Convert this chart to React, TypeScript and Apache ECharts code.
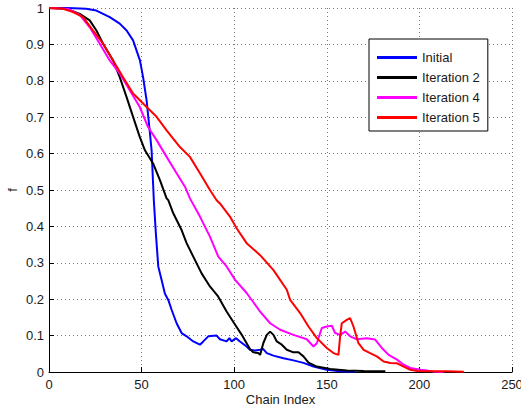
import React, { useEffect, useRef } from "react";
import * as echarts from "echarts";

const seriesNames = ["Initial", "Iteration 2", "Iteration 4", "Iteration 5"];
const seriesColors = ["#0000ff", "#000000", "#ff00ff", "#ff0000"];

const initialX = [0, 10, 20, 25.6, 32.8, 38.2, 41.9, 45.4, 49.1, 50.8, 52.7, 54.5, 55.4, 56.2, 56.6, 57.7, 59, 60.8, 62.6, 64.4, 66.2, 68.9, 71.6, 74.3, 77.9, 81.5, 83.3, 86, 90.5, 92.3, 95.9, 97.4, 98.6, 101, 103.1, 106.7, 108.5, 111.2, 114, 115.7, 117.6, 121.2, 126.6, 132, 137.4, 142.8, 150, 157.2, 165.3];
const initialY = [1, 1, 0.998, 0.993, 0.975, 0.957, 0.938, 0.911, 0.856, 0.81, 0.746, 0.656, 0.609, 0.518, 0.472, 0.381, 0.29, 0.253, 0.215, 0.198, 0.171, 0.134, 0.107, 0.098, 0.084, 0.075, 0.084, 0.098, 0.1, 0.09, 0.084, 0.093, 0.084, 0.093, 0.084, 0.07, 0.061, 0.059, 0.061, 0.063, 0.052, 0.045, 0.038, 0.032, 0.025, 0.015, 0.006, 0.002, 0.001];

const iter2X = [0, 9.4, 16.6, 22, 25.6, 29.2, 34.6, 38.2, 41.9, 45.4, 49, 51.8, 56.2, 59.9, 63.5, 64.4, 67.1, 71.6, 74.3, 77.9, 82.4, 86.9, 91.4, 95.9, 100.5, 104.1, 106.7, 108.5, 110.3, 113, 114, 115.7, 117.6, 119.4, 121.2, 123, 125.7, 128.4, 132, 134.7, 137.4, 140.1, 144.6, 151.8, 160.8, 169.9, 181.6];
const iter2Y = [1, 0.998, 0.984, 0.966, 0.938, 0.902, 0.856, 0.81, 0.755, 0.701, 0.646, 0.609, 0.573, 0.527, 0.477, 0.472, 0.436, 0.39, 0.354, 0.317, 0.271, 0.235, 0.207, 0.166, 0.13, 0.102, 0.079, 0.063, 0.054, 0.052, 0.047, 0.079, 0.102, 0.111, 0.102, 0.084, 0.075, 0.061, 0.054, 0.054, 0.043, 0.026, 0.015, 0.008, 0.004, 0.003, 0.002];

const iter4X = [0, 10, 16.6, 22, 27.4, 32.8, 38.2, 43.6, 49, 53.5, 58.1, 63.5, 68.9, 73.4, 76.1, 81.5, 86.9, 91.4, 95.9, 100.5, 106.7, 114, 119.4, 124.8, 132, 139.2, 142.8, 144.6, 147.3, 150, 152.7, 154.5, 157.2, 159.9, 162.6, 166.2, 171.6, 176.1, 179.7, 183.4, 187.9, 191.5, 195.1, 200.5, 204, 207.7, 213];
const iter4Y = [1, 0.998, 0.981, 0.947, 0.902, 0.856, 0.82, 0.774, 0.728, 0.673, 0.637, 0.591, 0.546, 0.509, 0.477, 0.427, 0.372, 0.317, 0.29, 0.253, 0.217, 0.166, 0.134, 0.116, 0.102, 0.09, 0.07, 0.079, 0.121, 0.125, 0.127, 0.107, 0.102, 0.111, 0.098, 0.09, 0.093, 0.089, 0.066, 0.047, 0.034, 0.02, 0.011, 0.006, 0.004, 0.001, 0];

const iter5X = [0, 7.6, 13, 18.4, 23.8, 29.2, 34.6, 40, 45.4, 52.7, 58.1, 63.5, 70.7, 76.1, 81.5, 86.9, 90.5, 92.3, 97.7, 101.3, 106.7, 114, 121.2, 128.4, 130.2, 135.6, 140.1, 144.6, 150, 153.6, 156.3, 157.2, 158.1, 160.8, 162.6, 164.4, 167.1, 169.9, 173.4, 177, 180.7, 184.3, 187.9, 191.5, 195.1, 198.8, 204, 215, 224];
const iter5Y = [1, 0.998, 0.989, 0.975, 0.938, 0.902, 0.856, 0.81, 0.765, 0.728, 0.701, 0.664, 0.618, 0.591, 0.546, 0.5, 0.472, 0.463, 0.427, 0.395, 0.354, 0.321, 0.28, 0.226, 0.198, 0.162, 0.125, 0.093, 0.066, 0.052, 0.047, 0.098, 0.134, 0.143, 0.148, 0.125, 0.079, 0.061, 0.052, 0.043, 0.029, 0.025, 0.024, 0.015, 0.006, 0.003, 0.002, 0.002, 0.001];

const xs = [initialX, iter2X, iter4X, iter5X];
const ys = [initialY, iter2Y, iter4Y, iter5Y];

const FONT = "Liberation Sans, Arial, sans-serif";

export default function App() {
  const ref = useRef<HTMLDivElement>(null);
  useEffect(() => {
    if (!ref.current) return;
    const chart = echarts.init(ref.current, undefined, { renderer: "svg" });
    const axisCommon = {
      axisLine: { show: true, lineStyle: { color: "#000", width: 1 } },
      axisTick: { show: true, inside: true, length: 5, lineStyle: { color: "#000" } },
      axisLabel: { color: "#1a1a1a", fontSize: 13, fontFamily: FONT },
      splitLine: { show: true, lineStyle: { color: "#777", type: [1, 3], width: 1 } },
      nameTextStyle: { color: "#1a1a1a", fontSize: 13, fontFamily: FONT },
      nameMoveOverlap: false,
    };
    chart.setOption({
      animation: false,
      backgroundColor: "#fff",
      grid: { left: 49, right: 9, top: 8, bottom: 36, containLabel: false, outerBoundsMode: "none" },
      xAxis: {
        type: "value",
        min: 0,
        max: 250,
        interval: 50,
        name: "Chain Index",
        nameLocation: "middle",
        nameGap: 21,
        ...axisCommon,
        axisLabel: { ...axisCommon.axisLabel, margin: 6 },
      },
      yAxis: {
        type: "value",
        min: 0,
        max: 1,
        interval: 0.1,
        name: "f",
        nameLocation: "middle",
        nameGap: 30,
        ...axisCommon,
        axisLabel: { ...axisCommon.axisLabel, margin: 5 },
      },
      legend: {
        left: 369,
        top: 39,
        orient: "vertical",
        backgroundColor: "#fff",
        borderColor: "#000",
        borderWidth: 1,
        borderRadius: 0,
        padding: [12, 8, 7, 8],
        itemGap: 7,
        itemWidth: 40,
        itemHeight: 3,
        icon: "rect",
        textStyle: { color: "#1a1a1a", fontSize: 13, fontFamily: FONT },
        data: seriesNames,
      },
      series: seriesNames.map((name, i) => ({
        name,
        type: "line",
        symbol: "none",
        color: seriesColors[i],
        lineStyle: { color: seriesColors[i], width: 2 },
        data: xs[i].map((x, j) => [x, ys[i][j]]),
      })),
    });
    return () => chart.dispose();
  }, []);
  return <div ref={ref} style={{ width: 521, height: 408, position: "absolute", left: 0, top: 0 }} />;
}
